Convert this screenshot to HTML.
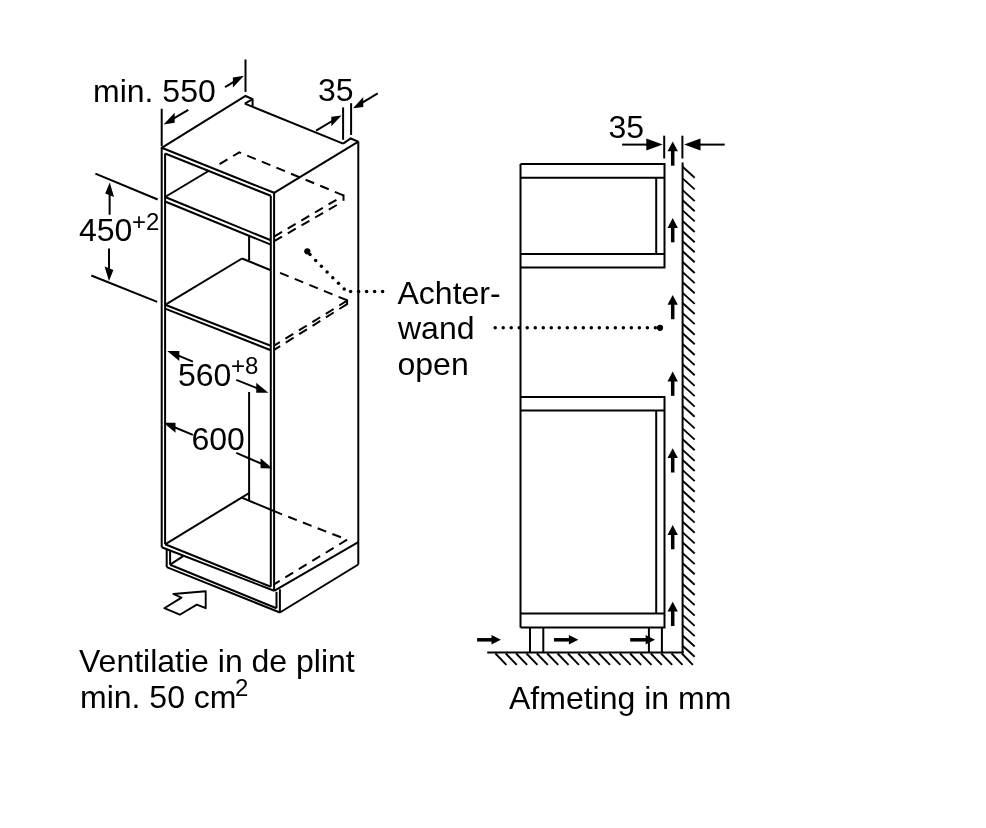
<!DOCTYPE html>
<html><head><meta charset="utf-8"><style>
html,body{margin:0;padding:0;background:#fff;}
svg{display:block;}
svg text{will-change:transform;}
text{font-family:"Liberation Sans",sans-serif;fill:#000;stroke:none;}
rect,circle{stroke:none;}
</style></head><body>
<svg width="986" height="828" viewBox="0 0 986 828">
<rect width="986" height="828" fill="#fff"/>
<g stroke="#000" fill="#000">
<polyline points="161.7,147.8 245.5,96 252.6,99.2 252.6,106.1" fill="none" stroke-width="2.0"/>
<line x1="244.8" y1="103.6" x2="252.6" y2="99.2" stroke-width="2.0"/>
<line x1="244.8" y1="103.6" x2="343.1" y2="143.6" stroke-width="2.0"/>
<polyline points="343.1,143.6 350.7,138.5 358.3,141.6" fill="none" stroke-width="2.0"/>
<line x1="161.7" y1="147.8" x2="274.1" y2="192.8" stroke-width="2.0"/>
<line x1="274.1" y1="192.8" x2="358.3" y2="141.6" stroke-width="2.0"/>
<line x1="161.7" y1="146.8" x2="161.7" y2="547.3" stroke-width="2.0"/>
<line x1="165.1" y1="153.5" x2="165.1" y2="544.3" stroke-width="2.0"/>
<line x1="274.1" y1="192.8" x2="274.1" y2="590.8" stroke-width="2.0"/>
<line x1="270.8" y1="195.8" x2="270.8" y2="586.8" stroke-width="2.0"/>
<line x1="358.3" y1="141.6" x2="358.3" y2="564.5" stroke-width="2.0"/>
<line x1="165.1" y1="153.5" x2="270.8" y2="195.8" stroke-width="2.0"/>
<line x1="161.7" y1="547.3" x2="274.1" y2="590.8" stroke-width="2.0"/>
<line x1="165.1" y1="544.3" x2="270.8" y2="586.8" stroke-width="2.0"/>
<line x1="274.1" y1="590.8" x2="358.3" y2="542.1" stroke-width="2.0"/>
<line x1="165.1" y1="197" x2="270.8" y2="240.3" stroke-width="2.0"/>
<line x1="165.1" y1="201.5" x2="270.8" y2="244.6" stroke-width="2.0"/>
<line x1="165.1" y1="197" x2="208.5" y2="171" stroke-width="2.0"/>
<polyline points="219.6,164.2 239.2,152.3 343.5,195.4" fill="none" stroke-width="2.0" stroke-dasharray="9.2,6.6" stroke-dashoffset="0"/>
<line x1="343.5" y1="194.4" x2="343.5" y2="200.8" stroke-width="2.0"/>
<line x1="274.1" y1="236.6" x2="336.8" y2="199.6" stroke-width="2.0" stroke-dasharray="9.2,6.6"/>
<line x1="274.1" y1="241.2" x2="336.8" y2="205" stroke-width="2.0" stroke-dasharray="9.2,6.6"/>
<line x1="249.1" y1="235.5" x2="249.1" y2="260.7" stroke-width="2.0"/>
<line x1="165.1" y1="304.8" x2="270.8" y2="345.8" stroke-width="2.0"/>
<line x1="165.1" y1="308.6" x2="270.8" y2="350.2" stroke-width="2.0"/>
<line x1="165.1" y1="304.8" x2="242" y2="258.5" stroke-width="2.0"/>
<line x1="242" y1="258.5" x2="270.8" y2="270.2" stroke-width="2.0"/>
<line x1="347.1" y1="300.3" x2="274.1" y2="270.5" stroke-width="2.0" stroke-dasharray="9.2,6.6"/>
<line x1="347.1" y1="300.7" x2="274.1" y2="345.6" stroke-width="2.0" stroke-dasharray="9.2,6.6"/>
<line x1="347.1" y1="304.1" x2="274.1" y2="349.9" stroke-width="2.0" stroke-dasharray="9.2,6.6"/>
<line x1="347.1" y1="299.3" x2="347.1" y2="304.9" stroke-width="2.0"/>
<line x1="249.1" y1="392" x2="249.1" y2="500.4" stroke-width="2.0"/>
<line x1="165.1" y1="544.3" x2="249" y2="493.1" stroke-width="2.0"/>
<line x1="241.7" y1="497.7" x2="280.2" y2="513.6" stroke-width="2.0"/>
<line x1="347.1" y1="539.7" x2="280.2" y2="513.6" stroke-width="2.0" stroke-dasharray="9.2,6.6" stroke-dashoffset="9.2"/>
<line x1="347.1" y1="539.7" x2="274.1" y2="584.3" stroke-width="2.0" stroke-dasharray="9.2,6.6"/>
<line x1="166.7" y1="548.9" x2="166.7" y2="567.1" stroke-width="2.0"/>
<line x1="170.1" y1="550" x2="170.1" y2="564.7" stroke-width="2.0"/>
<line x1="166.7" y1="567.1" x2="279.9" y2="612.5" stroke-width="2.0"/>
<line x1="170.1" y1="564.7" x2="276.5" y2="608.3" stroke-width="2.0"/>
<line x1="279.9" y1="589.3" x2="279.9" y2="612.5" stroke-width="2.0"/>
<line x1="276.5" y1="591.8" x2="276.5" y2="608.3" stroke-width="2.0"/>
<line x1="279.9" y1="612.5" x2="358.3" y2="564.5" stroke-width="2.0"/>
<line x1="170.1" y1="564.7" x2="183.2" y2="556.2" stroke-width="2.0"/>
<line x1="161.7" y1="108.7" x2="161.7" y2="146" stroke-width="2.0"/>
<line x1="245.5" y1="59.5" x2="245.5" y2="91.9" stroke-width="2.0"/>
<line x1="188.3" y1="109.8" x2="172.12" y2="119.33" stroke-width="2.0"/>
<polygon points="163.5,124.4 174.7,122.8 174.7,112.8" fill="#000" stroke="none"/>
<line x1="225" y1="87.2" x2="235.44" y2="80.88" stroke-width="2.0"/>
<polygon points="244,75.7 232.88,87.43 232.88,77.43" fill="#000" stroke="none"/>
<text x="93" y="102" font-size="32">min. 550</text>
<line x1="343.1" y1="107.4" x2="343.1" y2="139.8" stroke-width="2.0"/>
<line x1="351.1" y1="103.2" x2="351.1" y2="135" stroke-width="2.0"/>
<line x1="316.1" y1="130.6" x2="333.87" y2="120.01" stroke-width="2.0"/>
<polygon points="341.6,115.4 331.29,126.34 331.29,116.74" fill="#000" stroke="none"/>
<line x1="377.7" y1="93.3" x2="360.71" y2="103.55" stroke-width="2.0"/>
<polygon points="353,108.2 363.28,106.9 363.28,97.1" fill="#000" stroke="none"/>
<text x="318" y="101" font-size="32">35</text>
<line x1="95.4" y1="173.6" x2="157.7" y2="199.5" stroke-width="2.0"/>
<line x1="91.3" y1="275.5" x2="157.2" y2="301.9" stroke-width="2.0"/>
<line x1="109.6" y1="214.7" x2="109.67" y2="192.2" stroke-width="2.0"/>
<polygon points="109.7,182.4 114.07,196.96 105.25,193.44" fill="#000" stroke="none"/>
<line x1="109" y1="248.6" x2="109" y2="271.3" stroke-width="2.0"/>
<polygon points="109,281.1 113.41,270.06 104.59,266.54" fill="#000" stroke="none"/>
<text x="79" y="241" font-size="32">450</text>
<text x="132" y="229.5" font-size="24">+2</text>
<line x1="192.9" y1="361.6" x2="176.55" y2="354.89" stroke-width="2.0"/>
<polygon points="167.3,351.1 179.33,361.03 179.33,351.03" fill="#000" stroke="none"/>
<line x1="236.3" y1="379.9" x2="259.02" y2="388.99" stroke-width="2.0"/>
<polygon points="268.3,392.7 256.23,392.87 256.23,382.87" fill="#000" stroke="none"/>
<text x="178" y="386" font-size="32">560</text>
<text x="231" y="373.5" font-size="24">+8</text>
<line x1="192.8" y1="434.8" x2="172.74" y2="426.52" stroke-width="2.0"/>
<polygon points="163.5,422.7 175.52,432.66 175.52,422.66" fill="#000" stroke="none"/>
<line x1="236.3" y1="452.8" x2="263.33" y2="464.52" stroke-width="2.0"/>
<polygon points="272.5,468.5 260.57,468.33 260.57,458.33" fill="#000" stroke="none"/>
<text x="191.5" y="450" font-size="32">600</text>
<polygon points="173.3,594 205.7,591.2 205.7,608.2 196.8,604.6 179.8,614.7 164.3,608.2 181.5,597.6" fill="none" stroke-width="1.9" stroke-linejoin="round"/>
<circle cx="307.3" cy="251.3" r="3.1"/>
<circle cx="310" cy="254.5" r="1.75"/>
<circle cx="315.7" cy="260.6" r="1.75"/>
<circle cx="321.4" cy="266.28" r="1.75"/>
<circle cx="327.1" cy="271.96" r="1.75"/>
<circle cx="332.8" cy="277.64" r="1.75"/>
<circle cx="338.5" cy="283.32" r="1.75"/>
<circle cx="344.2" cy="289" r="1.75"/>
<circle cx="350.6" cy="291.4" r="1.75"/>
<circle cx="358.6" cy="291.4" r="1.75"/>
<circle cx="366.6" cy="291.4" r="1.75"/>
<circle cx="374.6" cy="291.4" r="1.75"/>
<circle cx="382.6" cy="291.4" r="1.75"/>
<text x="397.5" y="303.8" font-size="32">Achter-</text>
<text x="398" y="339.4" font-size="32">wand</text>
<text x="397.5" y="375" font-size="32">open</text>
<polyline points="520.5,164.1 664.5,164.1 664.5,267.6 520.5,267.6" fill="none" stroke-width="2.0"/>
<line x1="520.5" y1="177.8" x2="664.5" y2="177.8" stroke-width="2.0"/>
<line x1="520.5" y1="254.1" x2="664.5" y2="254.1" stroke-width="2.0"/>
<line x1="656.2" y1="177.8" x2="656.2" y2="254.1" stroke-width="2.0"/>
<line x1="520.5" y1="164.1" x2="520.5" y2="627.4" stroke-width="2.0"/>
<polyline points="520.5,397.1 664.5,397.1 664.5,627.4 520.5,627.4" fill="none" stroke-width="2.0"/>
<line x1="520.5" y1="410.5" x2="664.5" y2="410.5" stroke-width="2.0"/>
<line x1="520.5" y1="613.5" x2="664.5" y2="613.5" stroke-width="2.0"/>
<line x1="656.2" y1="410.5" x2="656.2" y2="613.5" stroke-width="2.0"/>
<line x1="530" y1="627.4" x2="530" y2="652.5" stroke-width="2.0"/>
<line x1="543.3" y1="627.4" x2="543.3" y2="652.5" stroke-width="2.0"/>
<line x1="648.9" y1="627.4" x2="648.9" y2="652.5" stroke-width="2.0"/>
<line x1="661.9" y1="627.4" x2="661.9" y2="652.5" stroke-width="2.0"/>
<line x1="487.2" y1="652.5" x2="683.6" y2="652.5" stroke-width="2.0"/>
<line x1="682.6" y1="162.6" x2="682.6" y2="653.5" stroke-width="2.0"/>
<line x1="682.6" y1="166.7" x2="694.7" y2="177.7" stroke-width="1.9"/>
<line x1="682.6" y1="178.4" x2="694.7" y2="189.4" stroke-width="1.9"/>
<line x1="682.6" y1="190.1" x2="694.7" y2="201.1" stroke-width="1.9"/>
<line x1="682.6" y1="200.2" x2="694.7" y2="211.2" stroke-width="1.9"/>
<line x1="682.6" y1="210.4" x2="694.7" y2="221.4" stroke-width="1.9"/>
<line x1="682.6" y1="221" x2="694.7" y2="232" stroke-width="1.9"/>
<line x1="682.6" y1="231.2" x2="694.7" y2="242.2" stroke-width="1.9"/>
<line x1="682.6" y1="241.2" x2="694.7" y2="252.2" stroke-width="1.9"/>
<line x1="682.6" y1="251.3" x2="694.7" y2="262.3" stroke-width="1.9"/>
<line x1="682.6" y1="262" x2="694.7" y2="273" stroke-width="1.9"/>
<line x1="682.6" y1="272.1" x2="694.7" y2="283.1" stroke-width="1.9"/>
<line x1="682.6" y1="282.2" x2="694.7" y2="293.2" stroke-width="1.9"/>
<line x1="682.6" y1="292.9" x2="694.7" y2="303.9" stroke-width="1.9"/>
<line x1="682.6" y1="303" x2="694.7" y2="314" stroke-width="1.9"/>
<line x1="682.6" y1="313.1" x2="694.7" y2="324.1" stroke-width="1.9"/>
<line x1="682.6" y1="323.7" x2="694.7" y2="334.7" stroke-width="1.9"/>
<line x1="682.6" y1="333.3" x2="694.7" y2="344.3" stroke-width="1.9"/>
<line x1="682.6" y1="344" x2="694.7" y2="355" stroke-width="1.9"/>
<line x1="682.6" y1="354.1" x2="694.7" y2="365.1" stroke-width="1.9"/>
<line x1="682.6" y1="364.3" x2="694.7" y2="375.3" stroke-width="1.9"/>
<line x1="682.6" y1="374.9" x2="694.7" y2="385.9" stroke-width="1.9"/>
<line x1="682.6" y1="385.1" x2="694.7" y2="396.1" stroke-width="1.9"/>
<line x1="682.6" y1="395.6" x2="694.7" y2="406.6" stroke-width="1.9"/>
<line x1="682.6" y1="405.7" x2="694.7" y2="416.7" stroke-width="1.9"/>
<line x1="682.6" y1="417.4" x2="694.7" y2="428.4" stroke-width="1.9"/>
<line x1="682.6" y1="428.6" x2="694.7" y2="439.6" stroke-width="1.9"/>
<line x1="682.6" y1="439.2" x2="694.7" y2="450.2" stroke-width="1.9"/>
<line x1="682.6" y1="449.9" x2="694.7" y2="460.9" stroke-width="1.9"/>
<line x1="682.6" y1="460" x2="694.7" y2="471" stroke-width="1.9"/>
<line x1="682.6" y1="470.1" x2="694.7" y2="481.1" stroke-width="1.9"/>
<line x1="682.6" y1="480.7" x2="694.7" y2="491.7" stroke-width="1.9"/>
<line x1="682.6" y1="490.8" x2="694.7" y2="501.8" stroke-width="1.9"/>
<line x1="682.6" y1="501.5" x2="694.7" y2="512.5" stroke-width="1.9"/>
<line x1="682.6" y1="511.6" x2="694.7" y2="522.6" stroke-width="1.9"/>
<line x1="682.6" y1="521.7" x2="694.7" y2="532.7" stroke-width="1.9"/>
<line x1="682.6" y1="532.4" x2="694.7" y2="543.4" stroke-width="1.9"/>
<line x1="682.6" y1="542.5" x2="694.7" y2="553.5" stroke-width="1.9"/>
<line x1="682.6" y1="553.1" x2="694.7" y2="564.1" stroke-width="1.9"/>
<line x1="682.6" y1="563.2" x2="694.7" y2="574.2" stroke-width="1.9"/>
<line x1="682.6" y1="573.8" x2="694.7" y2="584.8" stroke-width="1.9"/>
<line x1="682.6" y1="584" x2="694.7" y2="595" stroke-width="1.9"/>
<line x1="682.6" y1="594.1" x2="694.7" y2="605.1" stroke-width="1.9"/>
<line x1="682.6" y1="604.6" x2="694.7" y2="615.6" stroke-width="1.9"/>
<line x1="682.6" y1="614.9" x2="694.7" y2="625.9" stroke-width="1.9"/>
<line x1="682.6" y1="625.1" x2="694.7" y2="636.1" stroke-width="1.9"/>
<line x1="682.6" y1="635.5" x2="694.7" y2="646.5" stroke-width="1.9"/>
<line x1="682.6" y1="645.8" x2="694.7" y2="656.8" stroke-width="1.9"/>
<line x1="495.4" y1="653.5" x2="506.4" y2="664.8" stroke-width="1.9"/>
<line x1="505.76" y1="653.5" x2="516.76" y2="664.8" stroke-width="1.9"/>
<line x1="516.12" y1="653.5" x2="527.12" y2="664.8" stroke-width="1.9"/>
<line x1="526.48" y1="653.5" x2="537.48" y2="664.8" stroke-width="1.9"/>
<line x1="536.84" y1="653.5" x2="547.84" y2="664.8" stroke-width="1.9"/>
<line x1="547.2" y1="653.5" x2="558.2" y2="664.8" stroke-width="1.9"/>
<line x1="557.56" y1="653.5" x2="568.56" y2="664.8" stroke-width="1.9"/>
<line x1="567.92" y1="653.5" x2="578.92" y2="664.8" stroke-width="1.9"/>
<line x1="578.28" y1="653.5" x2="589.28" y2="664.8" stroke-width="1.9"/>
<line x1="588.64" y1="653.5" x2="599.64" y2="664.8" stroke-width="1.9"/>
<line x1="599" y1="653.5" x2="610" y2="664.8" stroke-width="1.9"/>
<line x1="609.36" y1="653.5" x2="620.36" y2="664.8" stroke-width="1.9"/>
<line x1="619.72" y1="653.5" x2="630.72" y2="664.8" stroke-width="1.9"/>
<line x1="630.08" y1="653.5" x2="641.08" y2="664.8" stroke-width="1.9"/>
<line x1="640.44" y1="653.5" x2="651.44" y2="664.8" stroke-width="1.9"/>
<line x1="650.8" y1="653.5" x2="661.8" y2="664.8" stroke-width="1.9"/>
<line x1="661.16" y1="653.5" x2="672.16" y2="664.8" stroke-width="1.9"/>
<line x1="671.52" y1="653.5" x2="682.52" y2="664.8" stroke-width="1.9"/>
<line x1="681.88" y1="653.5" x2="692.88" y2="664.8" stroke-width="1.9"/>
<circle cx="495.2" cy="327.8" r="1.75"/>
<circle cx="503.21" cy="327.8" r="1.75"/>
<circle cx="511.22" cy="327.8" r="1.75"/>
<circle cx="519.23" cy="327.8" r="1.75"/>
<circle cx="527.24" cy="327.8" r="1.75"/>
<circle cx="535.25" cy="327.8" r="1.75"/>
<circle cx="543.26" cy="327.8" r="1.75"/>
<circle cx="551.27" cy="327.8" r="1.75"/>
<circle cx="559.28" cy="327.8" r="1.75"/>
<circle cx="567.29" cy="327.8" r="1.75"/>
<circle cx="575.3" cy="327.8" r="1.75"/>
<circle cx="583.31" cy="327.8" r="1.75"/>
<circle cx="591.32" cy="327.8" r="1.75"/>
<circle cx="599.33" cy="327.8" r="1.75"/>
<circle cx="607.34" cy="327.8" r="1.75"/>
<circle cx="615.35" cy="327.8" r="1.75"/>
<circle cx="623.36" cy="327.8" r="1.75"/>
<circle cx="631.37" cy="327.8" r="1.75"/>
<circle cx="639.38" cy="327.8" r="1.75"/>
<circle cx="647.39" cy="327.8" r="1.75"/>
<circle cx="655.4" cy="327.8" r="1.75"/>
<circle cx="660" cy="327.8" r="3.1"/>
<line x1="664.2" y1="135.7" x2="664.2" y2="158.5" stroke-width="2.0"/>
<line x1="682.4" y1="135.7" x2="682.4" y2="158.5" stroke-width="2.0"/>
<line x1="622.1" y1="144.6" x2="649.3" y2="144.6" stroke-width="2.0"/>
<polygon points="662.7,144.6 646.3,150.6 646.3,138.6" fill="#000" stroke="none"/>
<line x1="724.7" y1="144.6" x2="697.5" y2="144.6" stroke-width="2.0"/>
<polygon points="684.1,144.6 700.5,138.6 700.5,150.6" fill="#000" stroke="none"/>
<text x="608.5" y="137.5" font-size="32">35</text>
<polygon points="672.7,141.4 667.5,151.3 677.9,151.3" fill="#000" stroke="none"/>
<rect x="670.95" y="150.4" width="3.5" height="15.3" fill="#000"/>
<polygon points="672.7,218 667.5,227.9 677.9,227.9" fill="#000" stroke="none"/>
<rect x="670.95" y="227" width="3.5" height="15.3" fill="#000"/>
<polygon points="672.7,294.9 667.5,304.8 677.9,304.8" fill="#000" stroke="none"/>
<rect x="670.95" y="303.9" width="3.5" height="15.3" fill="#000"/>
<polygon points="672.7,371.5 667.5,381.4 677.9,381.4" fill="#000" stroke="none"/>
<rect x="670.95" y="380.5" width="3.5" height="15.3" fill="#000"/>
<polygon points="672.7,448.2 667.5,458.1 677.9,458.1" fill="#000" stroke="none"/>
<rect x="670.95" y="457.2" width="3.5" height="15.3" fill="#000"/>
<polygon points="672.7,525 667.5,534.9 677.9,534.9" fill="#000" stroke="none"/>
<rect x="670.95" y="534" width="3.5" height="15.3" fill="#000"/>
<polygon points="672.7,601.7 667.5,611.6 677.9,611.6" fill="#000" stroke="none"/>
<rect x="670.95" y="610.7" width="3.5" height="15.3" fill="#000"/>
<polygon points="500.9,639.8 491.5,635 491.5,644.6" fill="#000" stroke="none"/>
<rect x="477.1" y="638.05" width="15.3" height="3.5" fill="#000"/>
<polygon points="578.3,639.8 568.9,635 568.9,644.6" fill="#000" stroke="none"/>
<rect x="554" y="638.05" width="15.8" height="3.5" fill="#000"/>
<polygon points="655,639.8 645.6,635 645.6,644.6" fill="#000" stroke="none"/>
<rect x="630.2" y="638.05" width="16.3" height="3.5" fill="#000"/>
<text x="79" y="672" font-size="32">Ventilatie in de plint</text>
<text x="80" y="707.5" font-size="32">min. 50 cm</text>
<text x="235" y="696" font-size="24">2</text>
<text x="509" y="708.5" font-size="32">Afmeting in mm</text>
</g>
</svg>
</body></html>
